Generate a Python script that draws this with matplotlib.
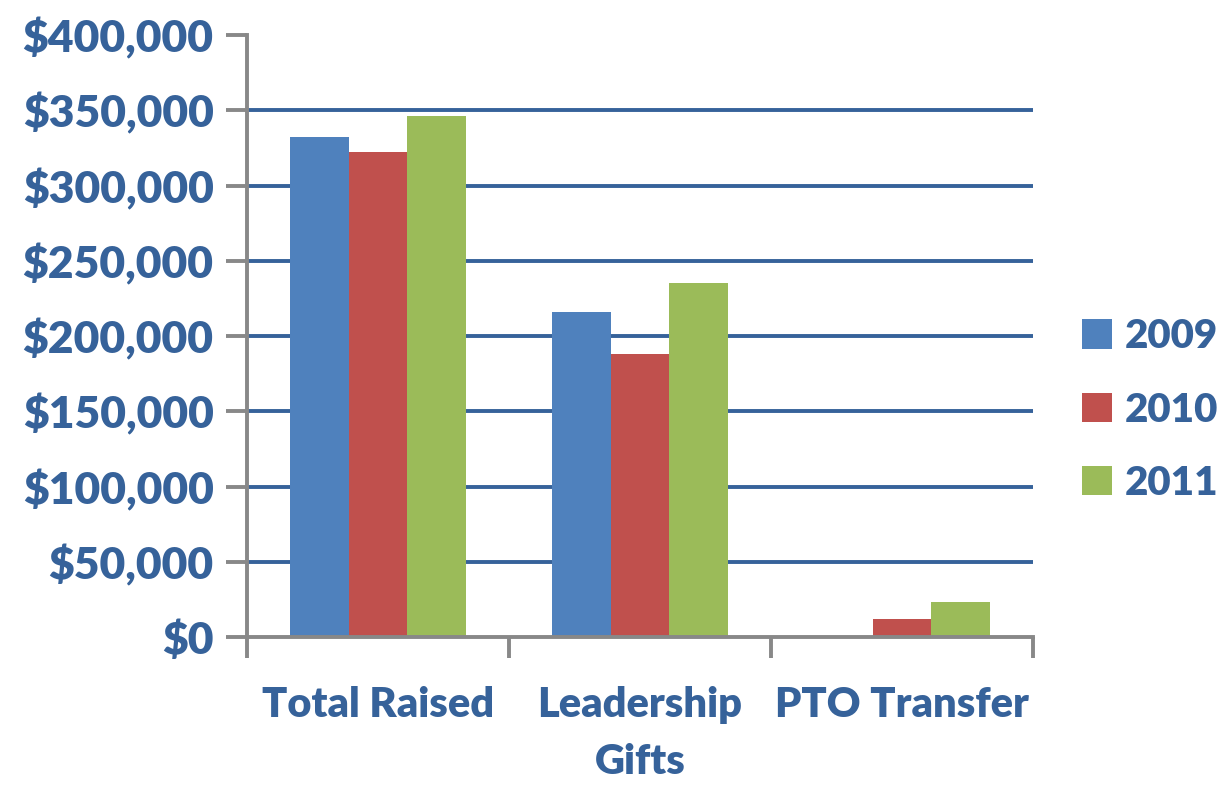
import matplotlib
matplotlib.use("Agg")
import matplotlib.pyplot as plt
from matplotlib.patches import Patch
import numpy as np

categories = ["Total Raised", "Leadership\nGifts", "PTO Transfer"]
years = ["2009", "2010", "2011"]
values_2009 = [332000, 216000, 0]
values_2010 = [322000, 188000, 12000]
values_2011 = [346000, 235000, 23500]
yticks = [0, 50000, 100000, 150000, 200000, 250000, 300000, 350000, 400000]
ytick_labels = ["$0", "$50,000", "$100,000", "$150,000", "$200,000",
                "$250,000", "$300,000", "$350,000", "$400,000"]

colors = ["#4F81BD", "#C0504D", "#9BBB59"]
text_color = "#36629A"
grid_color = "#36629A"
axis_color = "#888888"

plt.rcParams['font.family'] = ['Lato', 'DejaVu Sans']
FW = 'heavy'

fig = plt.figure(figsize=(12.21, 7.85), dpi=100)
ax = fig.add_axes([247/1221, 1-637/785, (1033-247)/1221, (637-35)/785])

x = np.arange(len(categories))
w = 0.225
series = [values_2009, values_2010, values_2011]
for j, (vals, c) in enumerate(zip(series, colors)):
    ax.bar(x + (j-1)*w, vals, width=w, color=c, edgecolor='none', zorder=3)

# gridlines (not at 0 and 400k)
for yv in yticks[1:-1]:
    ax.axhline(yv, color=grid_color, lw=2.8, zorder=2)

ax.set_xlim(-0.5, 2.5)
ax.set_ylim(0, 400000)
ax.set_yticks(yticks)
ax.set_yticklabels(ytick_labels)
ax.set_xticks([-0.5, 0.5, 1.5, 2.5])
ax.set_xticklabels([])
ax.tick_params(axis='y', direction='out', length=15, width=2.8, color=axis_color,
               labelsize=32, labelcolor=text_color, pad=9)
ax.tick_params(axis='x', direction='out', length=15, width=2.8, color=axis_color)
for lab in ax.get_yticklabels():
    lab.set_fontweight(FW)

for s in ['top', 'right']:
    ax.spines[s].set_visible(False)
ax.spines['left'].set_color(axis_color)
ax.spines['left'].set_linewidth(2.8)
ax.spines['bottom'].set_color(axis_color)
ax.spines['bottom'].set_linewidth(2.8)
ax.spines['bottom'].set_zorder(4)

for i, cat in enumerate(categories):
    ax.text(i, -0.082, cat, transform=ax.get_xaxis_transform(), ha='center', va='top',
            fontsize=30, fontweight=FW, color=text_color, linespacing=1.6)

handles = [Patch(facecolor=c, edgecolor='none') for c in colors]
leg = fig.legend(handles, years, loc='center left', bbox_to_anchor=(1082/1221, 1-410/785),
                 frameon=False, prop={'size': 29, 'weight': FW},
                 borderpad=0, borderaxespad=0,
                 handlelength=0.75, handleheight=0.75, handletextpad=0.3, labelspacing=0.9)
for t in leg.get_texts():
    t.set_color(text_color)

fig.savefig("out.png", dpi=100)
